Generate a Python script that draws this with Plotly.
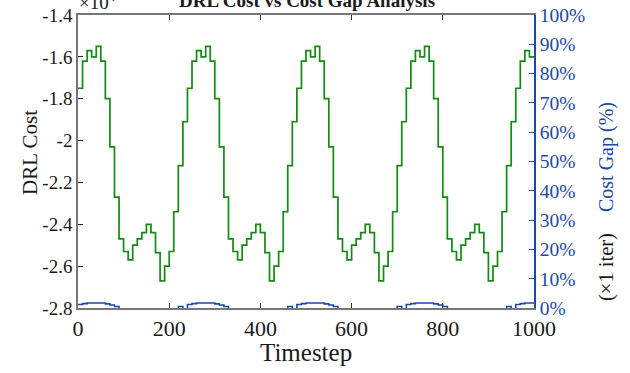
import plotly.graph_objects as go

# ---- data ----
timestep = [0, 10, 20, 30, 40, 50, 60, 70, 80, 90, 100, 110, 120, 130, 140, 150, 160, 170, 180, 190,
            200, 210, 220, 230, 240, 250, 260, 270, 280, 290, 300, 310, 320, 330, 340, 350, 360, 370, 380, 390,
            400, 410, 420, 430, 440, 450, 460, 470, 480, 490, 500, 510, 520, 530, 540, 550, 560, 570, 580, 590,
            600, 610, 620, 630, 640, 650, 660, 670, 680, 690, 700, 710, 720, 730, 740, 750, 760, 770, 780, 790,
            800, 810, 820, 830, 840, 850, 860, 870, 880, 890, 900, 910, 920, 930, 940, 950, 960, 970, 980, 990,
            1000]

# DRL cost in units of 1e4
drl_cost = [-1.75, -1.62, -1.57, -1.60, -1.55, -1.62, -1.80, -2.03, -2.27, -2.47, -2.53, -2.57,
            -2.50, -2.47, -2.44, -2.40, -2.44, -2.535, -2.67, -2.60, -2.53, -2.34, -2.12, -1.91,
            -1.75, -1.62, -1.57, -1.60, -1.55, -1.62, -1.80, -2.03, -2.27, -2.47, -2.53, -2.57,
            -2.50, -2.47, -2.44, -2.40, -2.44, -2.535, -2.67, -2.60, -2.53, -2.34, -2.12, -1.91,
            -1.75, -1.62, -1.57, -1.60, -1.55, -1.62, -1.80, -2.03, -2.27, -2.47, -2.53, -2.57,
            -2.50, -2.47, -2.44, -2.40, -2.44, -2.535, -2.67, -2.60, -2.53, -2.34, -2.12, -1.91,
            -1.75, -1.62, -1.57, -1.60, -1.55, -1.62, -1.80, -2.03, -2.27, -2.47, -2.53, -2.57,
            -2.50, -2.47, -2.44, -2.40, -2.44, -2.535, -2.67, -2.60, -2.53, -2.34, -2.12, -1.91,
            -1.75, -1.62, -1.57, -1.60,
            -1.60]

# Cost gap in percent (negative values fall below the visible 0-100% range)
cost_gap = [1.2, 1.5, 1.7, 1.7, 1.7, 1.7, 1.4, 1.0, 0.5, -2, -2, -2, -2, -2, -2, -2, -2, -2, -2, -2, -2, -2, 0.5, -2,
            1.2, 1.5, 1.7, 1.7, 1.7, 1.7, 1.4, 1.0, 0.5, -2, -2, -2, -2, -2, -2, -2, -2, -2, -2, -2, -2, -2, 0.5, -2,
            1.2, 1.5, 1.7, 1.7, 1.7, 1.7, 1.4, 1.0, 0.5, -2, -2, -2, -2, -2, -2, -2, -2, -2, -2, -2, -2, -2, 0.5, -2,
            1.2, 1.5, 1.7, 1.7, 1.7, 1.7, 1.4, 1.0, 0.5, -2, -2, -2, -2, -2, -2, -2, -2, -2, -2, -2, -2, -2, 0.5, -2,
            1.2, 1.5, 1.7, 1.7,
            1.7]

left_ticks = [-2.8, -2.6, -2.4, -2.2, -2.0, -1.8, -1.6, -1.4]
left_ticktext = ["-2.8", "-2.6", "-2.4", "-2.2", "-2", "-1.8", "-1.6", "-1.4"]
right_ticks = [0, 10, 20, 30, 40, 50, 60, 70, 80, 90, 100]
right_ticktext = ["0%", "10%", "20%", "30%", "40%", "50%", "60%", "70%", "80%", "90%", "100%"]
x_ticks = [0, 200, 400, 600, 800, 1000]

GREEN = "#138a13"
BLUE = "#1c48a6"
FONT = "Liberation Serif"

W, H = 630, 373
L, R, T, B = 78, 96, 15, 65
PW, PH = W - L - R, H - T - B


def px(xp):
    return (xp - L) / PW


def py(yp):
    return (H - B - yp) / PH


fig = go.Figure()
fig.add_trace(go.Scatter(x=timestep, y=drl_cost, mode="lines", line=dict(color=GREEN, width=1.7, shape="hv"),
                         yaxis="y", showlegend=False))
fig.add_trace(go.Scatter(x=timestep, y=cost_gap, mode="lines", line=dict(color=BLUE, width=1.6, shape="hv"),
                         yaxis="y2", showlegend=False))

fig.update_layout(
    width=W, height=H,
    margin=dict(l=L, r=R, t=T, b=B, pad=0, autoexpand=False),
    paper_bgcolor="white", plot_bgcolor="white",
    font=dict(family=FONT, color="black"),
    xaxis=dict(range=[0, 1000], tickvals=x_ticks, ticks="inside", ticklen=5, tickcolor="#333",
               showline=True, linecolor="#777", linewidth=1.5, mirror="ticks", showgrid=False, zeroline=False,
               tickfont=dict(size=22, family=FONT, color="#1a1a1a"), automargin=False),
    yaxis=dict(range=[-2.8, -1.4], tickvals=left_ticks, ticktext=left_ticktext, ticks="inside", ticklen=5,
               tickcolor="#222", showline=True, linecolor="#777", linewidth=1.5, showgrid=False, zeroline=False,
               tickfont=dict(size=19, family=FONT, color="#1a1a1a"), automargin=False),
    yaxis2=dict(range=[0, 100], overlaying="y", side="right", tickvals=right_ticks, ticktext=right_ticktext,
                ticks="inside", ticklen=5, tickcolor=BLUE, showline=True, linecolor=BLUE, linewidth=1.5,
                showgrid=False, zeroline=False, tickfont=dict(size=19.5, family=FONT, color=BLUE),
                automargin=False),
)

ann = [
    dict(text="<b>DRL Cost vs Cost Gap Analysis</b>", x=px(307), y=py(0.5), xanchor="center", yanchor="middle",
         font=dict(size=19, color="#1a1a1a")),
    dict(text="×10<sup>4</sup>", x=px(77), y=py(0.5), xanchor="left", yanchor="middle",
         font=dict(size=19, color="#1a1a1a")),
    dict(text="DRL Cost", x=px(30), y=py(153), xanchor="center", yanchor="middle", textangle=-90,
         font=dict(size=21, color="#1a1a1a")),
    dict(text="Timestep", x=px(306), y=py(352), xanchor="center", yanchor="middle",
         font=dict(size=25, color="#1a1a1a")),
    dict(text="Cost Gap (%)", x=px(606), y=py(157), xanchor="center", yanchor="middle", textangle=-90,
         font=dict(size=20, color=BLUE)),
    dict(text="(×1 iter)", x=px(606), y=py(267), xanchor="center", yanchor="middle", textangle=-90,
         font=dict(size=20.5, color="#1a1a1a")),
]
for a in ann:
    a.update(xref="paper", yref="paper", showarrow=False)
fig.update_layout(annotations=ann)

fig.write_html("out.html", config={"displayModeBar": False},
               post_script="document.body.style.margin='0';document.body.style.overflow='hidden';")
